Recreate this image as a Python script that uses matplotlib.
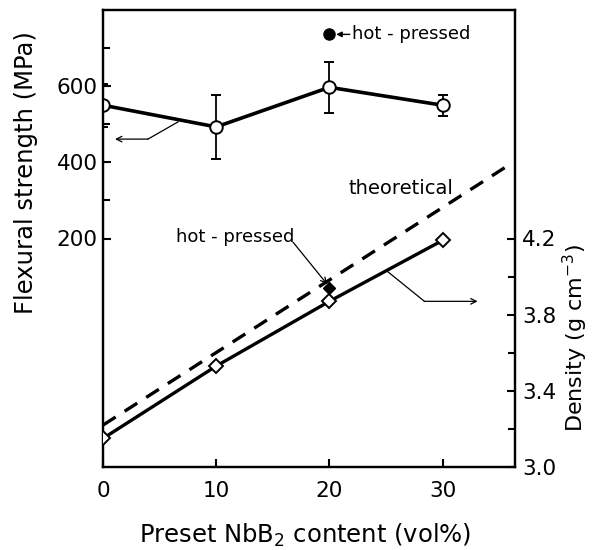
import matplotlib
matplotlib.use("Agg")
import matplotlib.pyplot as plt
from matplotlib.ticker import FixedLocator

plt.rcParams['font.family'] = ['DejaVu Sans']

# Data
nbb2 = [0, 10, 20, 30]
strength = [550, 493, 597, 550]
strength_err = [57, 85, 67, 28]
hp_strength_x = [20]
hp_strength = [736]

density = [3.15, 3.53, 3.87, 4.19]
hp_density_x = [20]
hp_density = [3.94]

theo_x = [0, 35.7]
theo_density = [3.22, 4.58]

fig = plt.figure(figsize=(5.94, 5.5), dpi=100)
ax = fig.add_axes([103/594, 1-467/550, 412/594, 457/550])
ax2 = ax.twinx()

# Strength
ax.errorbar(nbb2, strength, yerr=strength_err, color='black', lw=2.6,
            elinewidth=1.3, capsize=3.5, capthick=1.3, marker='o', ms=9,
            mfc='white', mec='black', mew=1.4, zorder=3)
ax.plot(hp_strength_x, hp_strength, 'o', color='black', ms=8, zorder=3)

# Density
ax2.plot(theo_x, theo_density, color='black', lw=2.4, dashes=(4.5, 3.2))
ax2.plot(nbb2, density, color='black', lw=2.4, marker='D', ms=7.5,
         mfc='white', mec='black', mew=1.4, zorder=3)
ax2.plot(hp_density_x, hp_density, 'D', color='black', ms=6.5, zorder=3)

ax.set_xlim(0, 36.4)
ax.set_ylim(-400, 800)
ax2.set_ylim(3.0, 5.4)

ax.xaxis.set_major_locator(FixedLocator([0, 10, 20, 30]))
ax.yaxis.set_major_locator(FixedLocator([200, 400, 600]))
ax.yaxis.set_minor_locator(FixedLocator([300, 500, 700]))
ax2.yaxis.set_major_locator(FixedLocator([3.0, 3.4, 3.8, 4.2]))
ax2.yaxis.set_minor_locator(FixedLocator([3.2, 3.6, 4.0]))
ax2.set_yticklabels(['3.0', '3.4', '3.8', '4.2'])

for a in (ax, ax2):
    for s in a.spines.values():
        s.set_linewidth(1.6)
ax.tick_params(axis='both', which='both', direction='in', labelsize=15.5,
               width=1.5)
ax.tick_params(axis='both', which='major', length=6)
ax.tick_params(axis='both', which='minor', length=5)
ax.tick_params(axis='x', pad=10)
ax.tick_params(axis='y', pad=4)
ax2.tick_params(axis='y', which='both', direction='in', labelsize=15.5,
                width=1.5, pad=5)
ax2.tick_params(axis='y', which='major', length=6)
ax2.tick_params(axis='y', which='minor', length=5)

ax.set_xlabel('Preset NbB$_2$ content (vol%)', fontsize=17.5)
ax.xaxis.label.set_va('center')
ax.xaxis.set_label_coords(0.49, -0.149)
ax.set_ylabel('Flexural strength (MPa)', fontsize=17.5)
ax.yaxis.label.set_va('center')
ax.yaxis.set_label_coords(-0.187, 0.645)
ax2.set_ylabel('Density (g cm$^{-3}$)', fontsize=16, rotation=90)
ax2.yaxis.label.set_va('center')
ax2.yaxis.set_label_coords(1.147, 0.282)

# Annotations
ax.annotate('', xy=(20.6, 736), xytext=(21.8, 736),
            arrowprops=dict(arrowstyle='-|>', color='black', lw=1.0,
                            mutation_scale=8, shrinkA=0, shrinkB=0))
ax.text(22.0, 736, 'hot - pressed', fontsize=13, va='center', ha='left')

ax.plot([6.62, 3.97], [506, 461], color='black', lw=0.9)
ax.annotate('', xy=(1.06, 461), xytext=(3.97, 461),
            arrowprops=dict(arrowstyle='->', color='black', lw=0.9,
                            shrinkA=0, shrinkB=0))

ax2.plot([25.07, 28.4], [4.03, 3.87], color='black', lw=0.9)
ax2.annotate('', xy=(33.1, 3.87), xytext=(28.4, 3.87),
             arrowprops=dict(arrowstyle='->', color='black', lw=0.9,
                             shrinkA=0, shrinkB=0))

ax2.text(26.3, 4.46, 'theoretical', fontsize=14, ha='center', va='center')
ax2.text(11.65, 4.21, 'hot - pressed', fontsize=13, ha='center', va='center')
ax2.annotate('', xy=(19.8, 3.96), xytext=(16.8, 4.18),
             arrowprops=dict(arrowstyle='->', color='black', lw=0.9,
                             shrinkA=0, shrinkB=0))

fig.savefig('out.png', dpi=100)
